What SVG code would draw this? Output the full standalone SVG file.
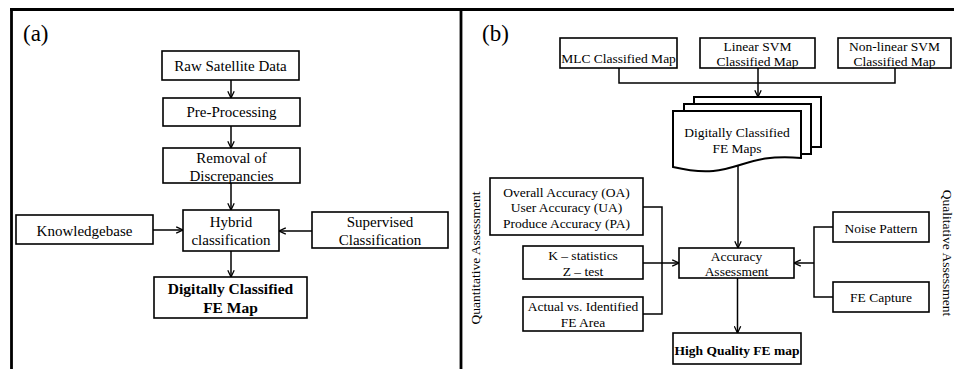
<svg xmlns="http://www.w3.org/2000/svg" width="954" height="369" viewBox="0 0 954 369">
<defs>
<marker id="arr" viewBox="0 0 10 10" refX="9.5" refY="5" markerWidth="8" markerHeight="8" markerUnits="userSpaceOnUse" orient="auto">
<path d="M1,1 L9.5,5 L1,9" fill="none" stroke="#000" stroke-width="1.6"/>
</marker>
<style>
.box{fill:#fff;stroke:#000;stroke-width:1.6}
.doc{fill:#fff;stroke:#000;stroke-width:2}
.ln{fill:none;stroke:#000;stroke-width:1.5}
.fr{fill:none;stroke:#000;stroke-width:2.8}
text{font-family:'Liberation Serif',serif;fill:#000;text-anchor:middle}
.a{font-size:15px}
.ab{font-size:15.5px;font-weight:bold}
.b{font-size:13.5px}
.bb{font-size:13.5px;font-weight:bold}
.lab{font-size:23px;text-anchor:start}
</style>
</defs>
<rect width="954" height="369" fill="#fff"/>
<g id="frame">
<path class="fr" d="M10,9.5 H954 M11.5,8 V369 M461,9 V369"/>
<text class="lab" x="23" y="41">(a)</text>
<text class="lab" x="482" y="41">(b)</text>
</g>
<g id="connectors">
<path class="ln" d="M231,80 V98" marker-end="url(#arr)"/>
<path class="ln" d="M231,126 V148" marker-end="url(#arr)"/>
<path class="ln" d="M231,183 V210" marker-end="url(#arr)"/>
<path class="ln" d="M153,230 H183" marker-end="url(#arr)"/>
<path class="ln" d="M312,231 H279" marker-end="url(#arr)"/>
<path class="ln" d="M231,251 V277" marker-end="url(#arr)"/>
<path class="ln" d="M619,68 V83 H895 V68"/>
<path class="ln" d="M758,68 V97" marker-end="url(#arr)"/>
<path class="ln" d="M738,166 V248" marker-end="url(#arr)"/>
<path class="ln" d="M643,207 H662 V314 H643"/>
<path class="ln" d="M643,263 H679" marker-end="url(#arr)"/>
<path class="ln" d="M833,227 H814 V297 H833"/>
<path class="ln" d="M814,263 H794" marker-end="url(#arr)"/>
<path class="ln" d="M737.5,278 V333" marker-end="url(#arr)"/>
</g>
<g id="raw">
<rect class="box" x="162" y="51" width="137" height="29"/>
<text class="a" x="230.5" y="71">Raw Satellite Data</text>
</g>
<g id="pre">
<rect class="box" x="163" y="98" width="137" height="28"/>
<text class="a" x="231.5" y="117">Pre-Processing</text>
</g>
<g id="removal">
<rect class="box" x="163" y="148" width="137" height="35"/>
<text class="a" x="231.5" y="163">Removal of</text>
<text class="a" x="231.5" y="180.5">Discrepancies</text>
</g>
<g id="hybrid">
<rect class="box" x="183" y="210" width="96" height="41"/>
<text class="a" x="231" y="227">Hybrid</text>
<text class="a" x="231" y="245">classification</text>
</g>
<g id="knowledge">
<rect class="box" x="16" y="215" width="137" height="29"/>
<text class="a" x="84.5" y="236">Knowledgebase</text>
</g>
<g id="supervised">
<rect class="box" x="312" y="212" width="136" height="36"/>
<text class="a" x="380" y="227">Supervised</text>
<text class="a" x="380" y="245">Classification</text>
</g>
<g id="digital-a">
<rect class="box" x="154" y="277" width="153" height="41"/>
<text class="ab" x="230.5" y="294">Digitally Classified</text>
<text class="ab" x="230.5" y="313">FE Map</text>
</g>
<g id="mlc">
<rect class="box" x="560" y="38" width="117" height="30"/>
<text class="b" x="618.5" y="63">MLC Classified Map</text>
</g>
<g id="linear">
<rect class="box" x="700" y="38" width="115" height="30"/>
<text class="b" x="757.5" y="50.5">Linear SVM</text>
<text class="b" x="757.5" y="65.5">Classified Map</text>
</g>
<g id="nonlinear">
<rect class="box" x="838" y="38" width="113" height="30"/>
<text class="b" x="894.5" y="50.5">Non-linear SVM</text>
<text class="b" x="894.5" y="65.5">Classified Map</text>
</g>
<g id="docs">
<path class="doc" d="M694,104 V97 H821 V147 H811"/>
<path class="doc" d="M684,111 V104 H811 V154 H801"/>
<path class="doc" d="M673,111 H801 V158 C737,152 737,182 673,167 Z"/>
<text class="b" x="737" y="137">Digitally Classified</text>
<text class="b" x="737" y="152.5">FE Maps</text>
</g>
<g id="overall">
<rect class="box" x="490" y="178" width="153" height="57"/>
<text class="b" x="566.5" y="196.5">Overall Accuracy (OA)</text>
<text class="b" x="566.5" y="211.5">User Accuracy (UA)</text>
<text class="b" x="566.5" y="227.5">Produce Accuracy (PA)</text>
</g>
<g id="kstat">
<rect class="box" x="523" y="246" width="120" height="33"/>
<text class="b" x="583" y="260">K – statistics</text>
<text class="b" x="583" y="276">Z – test</text>
</g>
<g id="actual">
<rect class="box" x="523" y="297" width="120" height="34"/>
<text class="b" x="583" y="311">Actual vs. Identified</text>
<text class="b" x="583" y="326.5">FE Area</text>
</g>
<g id="accuracy">
<rect class="box" x="679" y="248" width="115" height="30"/>
<text class="b" x="736.5" y="261">Accuracy</text>
<text class="b" x="736.5" y="275.5">Assessment</text>
</g>
<g id="noise">
<rect class="box" x="833" y="212" width="96" height="30"/>
<text class="b" x="881" y="232.5">Noise Pattern</text>
</g>
<g id="capture">
<rect class="box" x="833" y="282" width="96" height="30"/>
<text class="b" x="881" y="301.5">FE Capture</text>
</g>
<g id="highq">
<rect class="box" x="673" y="333" width="128" height="31"/>
<text class="bb" x="737" y="355">High Quality FE map</text>
</g>
<g id="side-labels">
<text class="b" transform="translate(480,258) rotate(-90)">Quantitative Assessment</text>
<text class="b" transform="translate(942.5,253) rotate(90)">Qualitative Assessment</text>
</g>
</svg>
